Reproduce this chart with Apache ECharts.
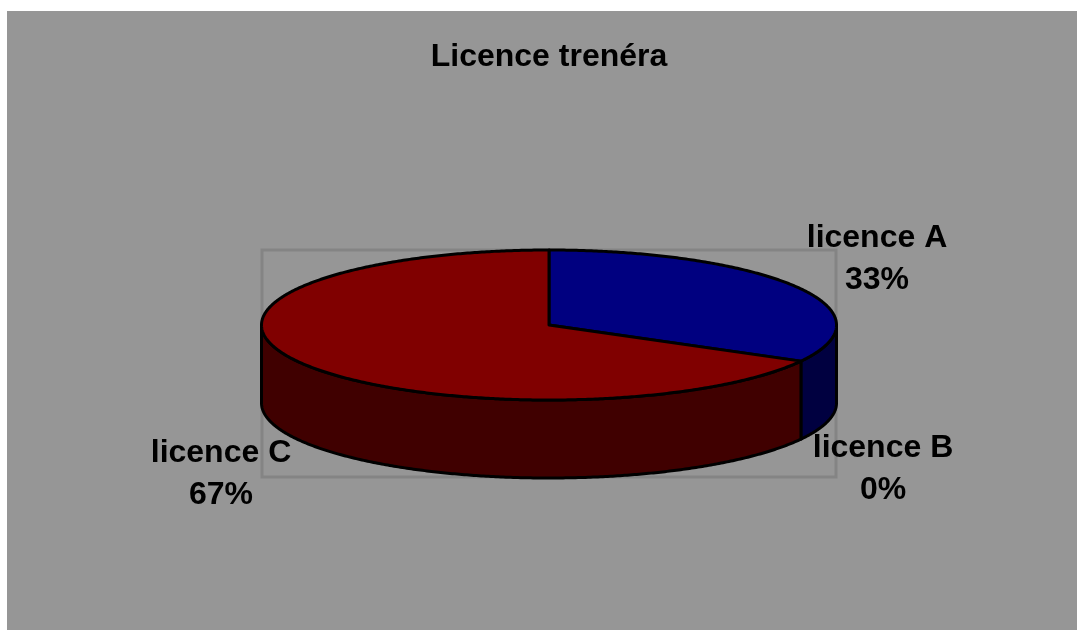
<!DOCTYPE html>
<html><head><meta charset="utf-8">
<style>html,body{margin:0;padding:0;background:#fff}#c{width:1077px;height:630px}</style>
<script src="https://cdn.jsdelivr.net/npm/echarts@6/dist/echarts.min.js"></script>
</head><body><div id="c"></div>
<script>
const titleText = 'Licence trenéra';
const categories = ['licence A', 'licence B', 'licence C'];
const values = [33, 0, 67];

const FONT = '"Liberation Sans", Arial, sans-serif';
const topColors = ['#000080', '#ff00ff', '#800000'];
const sideColors = ['#000040', '#800080', '#400000'];
const labelCenters = [[877, 259], [883, 469], [221, 474]];
const cx = 549, cy = 325, rx = 287.5, ry = 75, depth = 78;
const total = values.reduce((a, b) => a + b, 0);

const cum = [];
values.reduce((s, v, i) => (cum[i] = s, s + v), 0);
const pt = (deg, dy) => {
  const r = deg * Math.PI / 180;
  return [cx + rx * Math.sin(r), cy - ry * Math.cos(r) + (dy || 0)];
};
const arc = (a, b, dy) => {
  const out = [], n = Math.max(2, Math.ceil(Math.abs(b - a) * 2));
  for (let i = 0; i <= n; i++) out.push(pt(a + (b - a) * i / n, dy));
  return out;
};
const lineStyle = { stroke: '#000', lineWidth: 3, lineJoin: 'round' };

function renderSlice(params, api) {
  const i = params.dataIndex, v = api.value(0);
  const pct = Math.round(v / total * 100);
  const children = [];
  if (v > 0) {
    const a = cum[i] / total * 360, b = (cum[i] + v) / total * 360;
    const s = Math.max(a, 90), e = Math.min(b, 270);
    if (e > s) {
      children.push({
        type: 'polygon', z2: 1,
        shape: { points: arc(s, e, 0).concat(arc(e, s, depth)) },
        style: Object.assign({ fill: sideColors[i] }, lineStyle)
      });
    }
    children.push({
      type: 'polygon', z2: 2,
      shape: { points: [[cx, cy]].concat(arc(a, b, 0)) },
      style: Object.assign({ fill: topColors[i] }, lineStyle)
    });
  }
  children.push({
    type: 'text', z2: 5,
    style: {
      x: labelCenters[i][0], y: labelCenters[i][1],
      text: categories[i] + '\n' + pct + '%',
      fill: '#000', font: 'bold 32px ' + FONT,
      align: 'center', verticalAlign: 'middle', lineHeight: 42
    }
  });
  return { type: 'group', children };
}

function renderBox() {
  return {
    type: 'rect',
    shape: { x: cx - rx + 0.5, y: cy - ry, width: rx * 2 - 1, height: ry * 2 + depth - 1 },
    style: { fill: 'none', stroke: '#848484', lineWidth: 3 }
  };
}

const chart = echarts.init(document.getElementById('c'), null, { renderer: 'canvas' });
chart.setOption({
  animation: false,
  backgroundColor: '#fff',
  title: {
    text: titleText, left: 549, top: 41, textAlign: 'center', padding: 0,
    textStyle: { color: '#000', fontFamily: FONT, fontWeight: 'bold', fontSize: 32 }
  },
  graphic: [{
    type: 'rect', z: -10, silent: true,
    shape: { x: 7, y: 11, width: 1070, height: 619 },
    style: { fill: '#969696' }
  }],
  series: [
    { type: 'custom', coordinateSystem: 'none', z: 1, silent: true, data: [[0]], renderItem: renderBox },
    {
      type: 'custom', coordinateSystem: 'none', z: 2, silent: true,
      data: values.map((v, i) => ({ name: categories[i], value: [v] })),
      renderItem: renderSlice
    }
  ]
});
</script></body></html>
